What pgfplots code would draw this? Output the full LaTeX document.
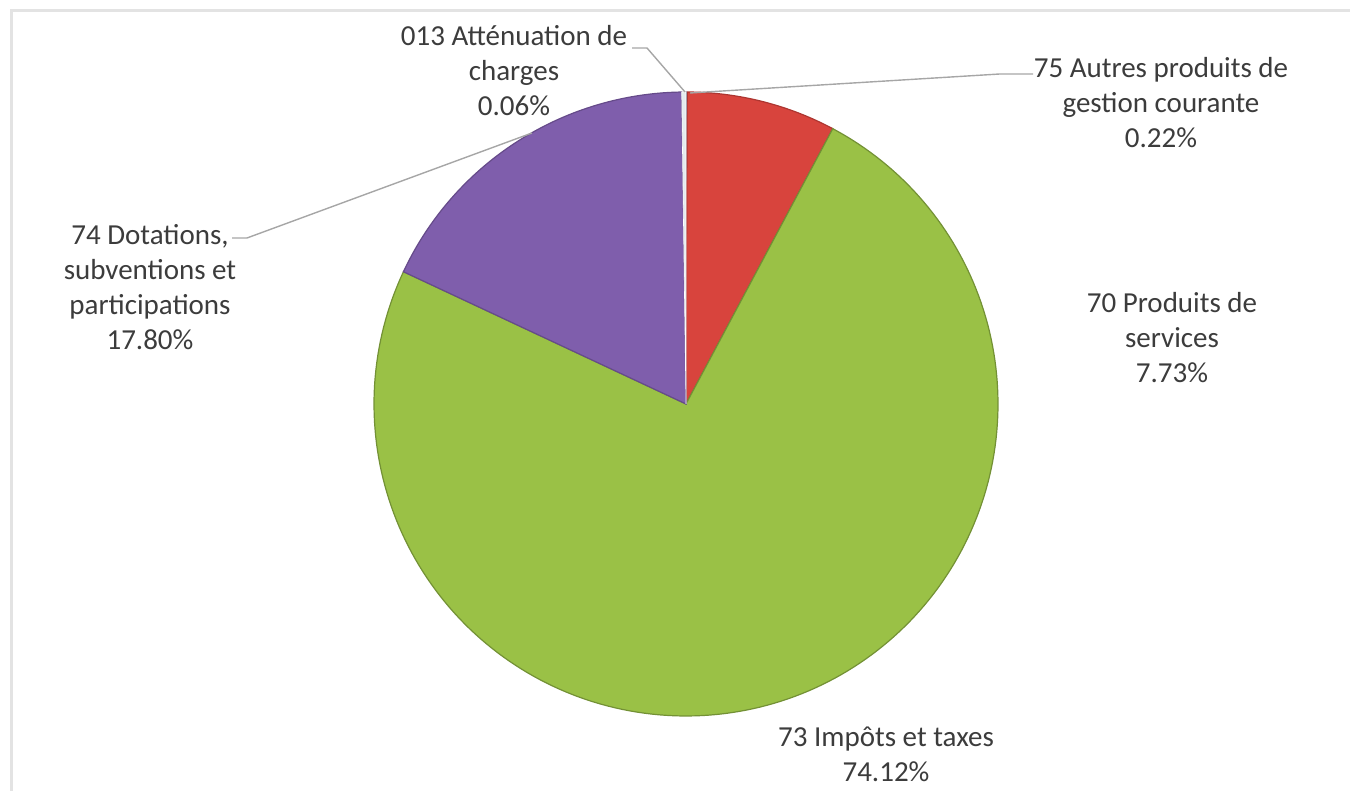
\documentclass[border=0pt]{standalone}
\usepackage{pgfplots}
\pgfplotsset{compat=1.18}
\usepackage{pgfplotstable}
\usepackage{fontspec}
\setmainfont{Carlito}
\definecolor{cred}{HTML}{D8443D}
\definecolor{cgreen}{HTML}{9AC146}
\definecolor{cpurple}{HTML}{7F5EAC}
\definecolor{cblue}{HTML}{4F6D9A}
\definecolor{caqua}{HTML}{E4ECEF}
\definecolor{labgray}{HTML}{3C3C3C}
\definecolor{leadgray}{HTML}{A6A6A6}
\definecolor{bordergray}{HTML}{E3E3E3}
\tikzset{lab/.style={font=\fontsize{14.5}{17.5}\selectfont, text=labgray, align=center, inner sep=0pt}}
\pgfplotstableread{
code value
013 0.06
70 7.73
73 74.12
74 17.80
75 0.22
}\piedata
\begin{document}
\begin{tikzpicture}
\path[use as bounding box] (0,0) rectangle (675pt,395.5pt);
\draw[line width=1.5pt, bordergray] (5.5pt,0) -- (5.5pt,390pt) -- (675pt,390pt);
\pgfplotstablegetelem{0}{value}\of\piedata \let\va\pgfplotsretval
\pgfplotstablegetelem{1}{value}\of\piedata \let\vb\pgfplotsretval
\pgfplotstablegetelem{2}{value}\of\piedata \let\vc\pgfplotsretval
\pgfplotstablegetelem{3}{value}\of\piedata \let\vd\pgfplotsretval
\pgfplotstablegetelem{4}{value}\of\piedata \let\ve\pgfplotsretval
\pgfmathsetmacro{\tot}{\va+\vb+\vc+\vd+\ve}
\pgfmathsetmacro{\k}{360/\tot}
\pgfmathsetmacro{\aA}{90}
\pgfmathsetmacro{\aB}{\aA-\k*\va}
\pgfmathsetmacro{\aC}{\aB-\k*\vb}
\pgfmathsetmacro{\aD}{\aC-\k*\vc}
\pgfmathsetmacro{\aE}{\aD-\k*\vd}
\pgfmathsetmacro{\aF}{\aE-\k*\ve}
\begin{axis}[
  at={(0,0)}, anchor=south west,
  scale only axis, width=675pt, height=395.5pt,
  xmin=-686, xmax=664, ymin=-387, ymax=404,
  hide axis, clip=false,
]
% slices (clockwise from 12 o'clock)
\addplot[fill=cblue, draw=cblue, line width=0.3pt, data cs=polar, domain=\aB:\aA, samples=5] (\x,312) -- (axis cs:0,0) -- cycle;
\addplot[fill=cred, draw=cred!80!black, line width=0.6pt, data cs=polar, domain=\aC:\aB, samples=60] (\x,312) -- (axis cs:0,0) -- cycle;
\addplot[fill=cgreen, draw=cgreen!75!black, line width=0.6pt, data cs=polar, domain=\aD:\aC, samples=200] (\x,312) -- (axis cs:0,0) -- cycle;
\addplot[fill=cpurple, draw=cpurple!80!black, line width=0.6pt, data cs=polar, domain=\aE:\aD, samples=80] (\x,312) -- (axis cs:0,0) -- cycle;
\addplot[fill=caqua, draw=white, line width=0.3pt, data cs=polar, domain=\aF:\aE, samples=5] (\x,312) -- (axis cs:0,0) -- cycle;
% leader lines
\addplot[leadgray, line width=0.7pt] coordinates {(-54,356) (-39,356) (-1,312)};
\addplot[leadgray, line width=0.7pt] coordinates {(347,330) (314,330) (4,311)};
\addplot[leadgray, line width=0.7pt] coordinates {(-454,166) (-439,166) (-154,271)};
% labels
\node[lab] at (axis cs:-172,333) {013 Atténuation de\\charges\\0.06\%};
\node[lab] at (axis cs:475,301) {75 Autres produits de\\gestion courante\\0.22\%};
\node[lab] at (axis cs:-536,117) {74 Dotations,\\subventions et\\participations\\17.80\%};
\node[lab] at (axis cs:486,66) {70 Produits de\\services\\7.73\%};
\node[lab] at (axis cs:200,-350) {73 Impôts et taxes\\74.12\%};
\end{axis}
\end{tikzpicture}
\end{document}
